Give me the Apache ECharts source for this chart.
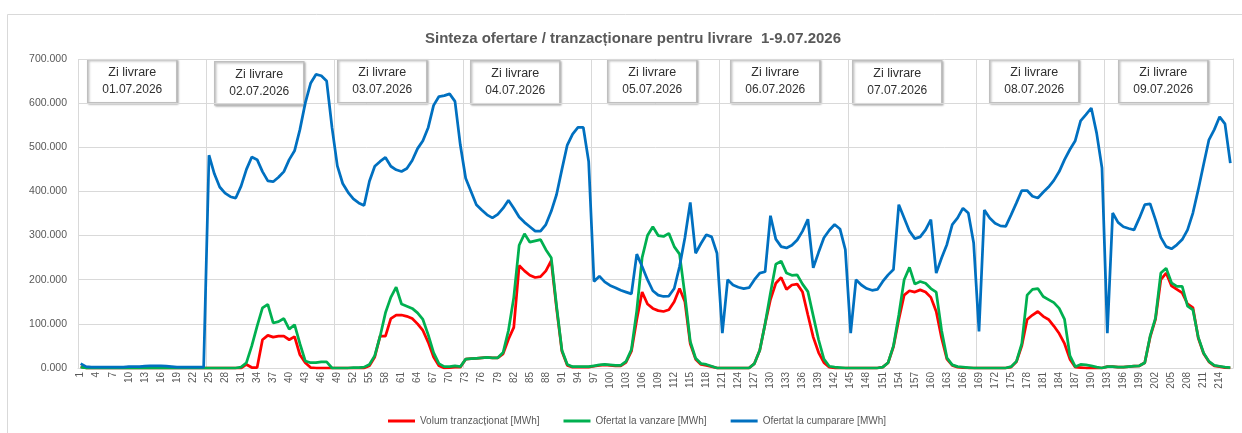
<!DOCTYPE html>
<html><head><meta charset="utf-8">
<script src="https://cdn.jsdelivr.net/npm/echarts@6/dist/echarts.min.js"></script>
<style>html,body{margin:0;padding:0;background:#fff}#c{width:1242px;height:433px}</style>
</head><body><div id="c"></div>
<script>
// ---- data ----
const hours = Array.from({length: 216}, (_, i) => String(i + 1));
const dayLabels = ['01.07.2026','02.07.2026','03.07.2026','04.07.2026','05.07.2026','06.07.2026','07.07.2026','08.07.2026','09.07.2026'];
const yTicks = [0, 100, 200, 300, 400, 500, 600, 700];

const volumTranzactionat = [
  3,0,0,0,0,0,0,0,0,0,0,0,0,0,0,0,0,0,0,0,0,0,0,0,
  0,0,0,0,0,0,0,8,1,1,64,74,70,72,72,64,71,30,12,1,0,0,0,0,
  0,0,0,0,0,0,5,25,72,72,112,120,120,117,112,100,85,58,25,5,0,1,2,2,
  20,21,22,23,24,23,23,32,65,92,232,220,210,205,207,220,243,135,38,6,2,2,2,2,
  4,6,7,6,5,5,13,38,110,172,145,135,130,128,132,150,180,150,55,20,8,6,3,0,
  0,0,0,0,0,0,10,40,100,155,192,205,178,188,190,172,120,70,35,12,2,0,0,0,
  0,0,0,0,0,0,2,12,48,110,165,175,172,177,172,160,128,68,20,6,2,1,0,0,
  0,0,0,0,0,0,2,14,50,110,120,128,117,110,95,78,55,20,2,1,0,0,0,0,
  3,3,2,2,3,4,5,12,70,110,200,215,186,178,170,145,137,68,33,14,5,3,1,0
];
const ofertatVanzare = [
  2,0,0,0,0,0,0,0,0,0,0,0,0,0,0,0,0,0,0,0,0,0,0,0,
  0,0,0,0,0,0,2,12,50,95,136,144,102,105,112,88,98,55,16,12,12,14,14,0,
  0,0,0,1,1,2,8,28,72,125,160,183,145,140,135,125,110,75,35,10,3,3,5,3,
  20,21,22,23,24,23,23,35,85,160,278,304,285,288,291,268,250,140,40,8,3,3,3,3,
  5,7,8,7,6,6,15,42,130,250,300,320,300,298,305,275,258,165,60,22,10,8,4,0,
  0,0,0,0,0,0,10,40,100,170,235,242,215,210,211,190,173,118,64,20,4,2,1,0,
  0,0,0,0,0,0,2,12,50,120,200,228,190,196,192,180,172,85,23,7,3,2,1,0,
  0,0,0,0,0,0,3,15,55,165,178,180,162,155,148,135,110,28,3,8,7,5,2,0,
  3,3,2,2,3,4,5,12,72,113,215,226,193,185,185,140,132,70,34,15,6,4,2,1
];
const ofertatCumparare = [
  10,3,2,2,2,2,2,2,2,3,3,3,4,5,5,5,4,3,2,2,2,2,2,2,
  482,440,410,396,388,385,412,450,478,472,445,424,422,432,445,472,492,540,600,645,665,662,650,545,
  458,418,398,383,374,368,423,457,468,477,457,449,445,452,470,497,515,545,595,615,617,621,604,505,
  430,400,370,358,347,340,348,362,380,362,342,330,320,310,310,325,355,393,450,505,530,545,545,468,
  196,208,195,187,182,176,172,168,258,230,200,175,165,162,163,180,230,295,375,260,282,302,297,260,
  79,200,188,183,180,182,200,215,218,345,292,275,272,278,290,310,337,227,262,295,312,325,315,268,
  79,200,188,180,176,178,196,211,223,370,340,310,293,297,313,336,215,249,280,325,340,362,351,283,
  83,358,340,328,322,321,347,374,402,402,389,385,398,410,425,445,472,495,515,560,574,589,532,453,
  79,351,330,320,316,313,340,370,372,336,296,275,270,279,291,313,351,404,461,517,540,569,553,464
];

// ---- chart ----
const FONT = 'Liberation Sans';
const chart = echarts.init(document.getElementById('c'), null, {renderer: 'canvas'});

const boxLeft = [87, 214, 337, 470, 607, 730, 852, 989, 1118];
const boxTop  = [59, 61, 59, 60, 59, 59, 60, 59, 59];
const graphics = [{
  type: 'rect', silent: true, z: -10,
  shape: {x: 7.5, y: 14.5, width: 1240, height: 430},
  style: {fill: 'none', stroke: '#d9d9d9', lineWidth: 1}
}];
dayLabels.forEach((d, k) => {
  graphics.push({
    type: 'group', left: boxLeft[k], top: boxTop[k], z: 100,
    children: [
      {type: 'rect', shape: {x: 0, y: 0, width: 89, height: 43},
       style: {fill: '#ffffff', stroke: '#bfbfbf', lineWidth: 1.5,
               shadowBlur: 2, shadowColor: 'rgba(0,0,0,0.25)', shadowOffsetX: 1, shadowOffsetY: 1}},
      {type: 'text', style: {x: 44.5, y: 13, text: 'Zi livrare', textAlign: 'center', textVerticalAlign: 'middle',
        fill: '#303030', font: '12.5px "' + FONT + '"'}},
      {type: 'text', style: {x: 44.5, y: 30, text: d, textAlign: 'center', textVerticalAlign: 'middle',
        fill: '#303030', font: '12px "' + FONT + '"'}}
    ]
  });
});

const option = {
  backgroundColor: '#ffffff',
  animation: false,
  textStyle: {fontFamily: FONT},
  title: {
    text: 'Sinteza ofertare / tranzacționare pentru livrare  1-9.07.2026',
    left: 420, top: 26,
    textStyle: {fontFamily: FONT, fontSize: 15, fontWeight: 'bold', color: '#595959'}
  },
  legend: {
    left: 383, top: 411,
    icon: 'rect', itemWidth: 27, itemHeight: 3, itemGap: 24,
    textStyle: {fontFamily: FONT, fontSize: 10, color: '#595959'},
    data: ['Volum tranzacționat [MWh]', 'Ofertat la vanzare [MWh]', 'Ofertat la cumparare [MWh]']
  },
  grid: {left: 78, right: 9, top: 59, bottom: 65, containLabel: false},
  xAxis: {
    type: 'category', data: hours, boundaryGap: true,
    axisTick: {show: false},
    axisLine: {lineStyle: {color: '#d9d9d9', width: 1}},
    axisLabel: {interval: 2, rotate: 90, fontSize: 10, color: '#595959', margin: 4, fontFamily: FONT},
    splitLine: {show: true, interval: (i) => i % 24 === 0, lineStyle: {color: '#d9d9d9', width: 1}}
  },
  yAxis: [{
    type: 'value', min: 0, max: 700, interval: 100,
    axisLine: {show: false}, axisTick: {show: false},
    axisLabel: {formatter: (v) => v.toFixed(3), fontSize: 10.5, color: '#595959', margin: 11, fontFamily: FONT},
    splitLine: {lineStyle: {color: '#d9d9d9', width: 1}}
  }, {
    type: 'value', min: 0, max: 700, interval: 100, position: 'right',
    axisLine: {show: true, lineStyle: {color: '#d9d9d9', width: 1}}, axisTick: {show: false},
    axisLabel: {show: false}, splitLine: {show: false}
  }],
  graphic: graphics,
  series: [
    {name: 'Volum tranzacționat [MWh]', type: 'line', data: volumTranzactionat, showSymbol: false, symbol: 'none',
     lineStyle: {color: '#ff0000', width: 2.75}, itemStyle: {color: '#ff0000'}, z: 2},
    {name: 'Ofertat la vanzare [MWh]', type: 'line', data: ofertatVanzare, showSymbol: false, symbol: 'none',
     lineStyle: {color: '#00b050', width: 2.75}, itemStyle: {color: '#00b050'}, z: 3},
    {name: 'Ofertat la cumparare [MWh]', type: 'line', data: ofertatCumparare, showSymbol: false, symbol: 'none',
     lineStyle: {color: '#0070c0', width: 2.75}, itemStyle: {color: '#0070c0'}, z: 4}
  ]
};
chart.setOption(option);
</script>
</body></html>
